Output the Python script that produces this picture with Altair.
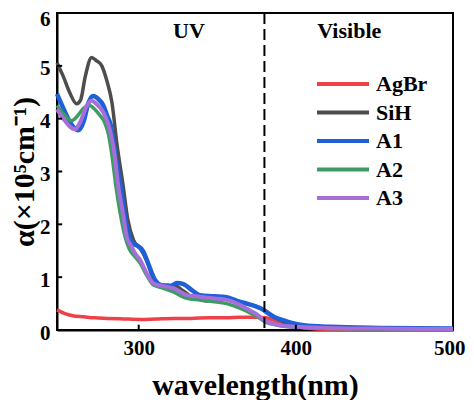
import altair as alt
import pandas as pd

series_names = ["AgBr", "SiH", "A1", "A2", "A3"]
series_colors = ["#ee4148", "#4d4d4d", "#1f5fd8", "#3c9d62", "#a66ed8"]
series_widths = [3.5, 3.5, 4.5, 3.5, 4.0]

agbr_wl = [248, 253, 258, 265, 272, 280, 290, 301, 311, 322, 333, 344, 355, 365, 375, 381, 388, 394, 401, 407, 414, 425, 450, 500]
agbr_val = [0.38, 0.31, 0.27, 0.25, 0.23, 0.22, 0.21, 0.20, 0.21, 0.22, 0.22, 0.23, 0.23, 0.24, 0.24, 0.23, 0.16, 0.10, 0.06, 0.035, 0.02, 0.01, 0.005, 0.005]

sih_wl = [248, 252, 256, 260.5, 263, 266, 270, 273, 276.5, 279.7, 283, 286, 290, 293, 296.7, 301, 305, 309, 313, 318, 323, 328, 333, 338, 343, 349, 356, 364, 371, 377, 381, 386, 392, 398, 405, 415, 430, 460, 500]
sih_val = [5.06, 4.8, 4.5, 4.28, 4.35, 4.8, 5.16, 5.1, 5.0, 4.72, 4.3, 3.55, 2.75, 2.1, 1.7, 1.54, 1.32, 1.0, 0.86, 0.85, 0.84, 0.75, 0.64, 0.58, 0.55, 0.58, 0.58, 0.52, 0.48, 0.42, 0.36, 0.25, 0.16, 0.11, 0.07, 0.05, 0.035, 0.02, 0.015]

a1_wl = [248, 252, 256, 261.6, 265, 268, 271, 274, 277.5, 280, 282, 284, 286, 288.6, 291, 294, 297, 299, 303, 306, 310.5, 314.8, 320, 324.3, 328.5, 334, 339, 347.7, 356, 364.7, 369, 377.5, 386, 394.5, 405, 422, 454, 500]
a1_val = [4.47, 4.2, 3.95, 3.78, 3.95, 4.3, 4.43, 4.38, 4.25, 4.05, 3.9, 3.55, 3.15, 2.7, 2.2, 1.76, 1.62, 1.6, 1.48, 1.26, 0.94, 0.84, 0.83, 0.89, 0.87, 0.75, 0.66, 0.64, 0.62, 0.53, 0.5, 0.41, 0.25, 0.16, 0.09, 0.06, 0.04, 0.03]

a2_wl = [248, 252, 257.3, 261, 265, 268.6, 272, 275.4, 278, 280.7, 283, 285.6, 288, 291.4, 294.6, 296.7, 301, 305, 309.4, 315.8, 322, 330.7, 339, 347, 356, 364.7, 369, 375, 380, 390, 400, 420, 460, 500]
a2_val = [4.25, 4.1, 3.96, 4.05, 4.2, 4.25, 4.18, 4.06, 3.95, 3.71, 3.3, 2.7, 2.25, 1.76, 1.5, 1.42, 1.26, 1.04, 0.85, 0.79, 0.72, 0.6, 0.57, 0.54, 0.5, 0.41, 0.35, 0.26, 0.16, 0.08, 0.05, 0.03, 0.02, 0.015]

a3_wl = [248, 252, 259.5, 263, 267, 270, 273, 277.5, 280, 282, 284, 287.1, 290, 292.4, 295, 297.7, 301, 305, 309.4, 315.8, 322, 330.7, 339, 347, 356, 364.7, 369, 375, 379.6, 390, 400, 420, 460, 500]
a3_val = [4.18, 4.0, 3.8, 3.95, 4.25, 4.34, 4.28, 4.12, 3.95, 3.75, 3.45, 2.7, 2.2, 1.76, 1.6, 1.45, 1.32, 1.08, 0.88, 0.83, 0.79, 0.66, 0.63, 0.6, 0.57, 0.47, 0.4, 0.3, 0.19, 0.09, 0.06, 0.04, 0.025, 0.02]

x_ticks = [300, 400, 500]
y_ticks = [0, 1, 2, 3, 4, 5, 6]
region_labels = ["UV", "Visible"]
region_label_x = [332, 434]
region_label_y = [5.53, 5.53]
boundary_wl = [380]

FONT = "'Liberation Serif', 'Times New Roman', serif"

rows = []
for name, wls, vals in [("AgBr", agbr_wl, agbr_val), ("SiH", sih_wl, sih_val),
                        ("A1", a1_wl, a1_val), ("A2", a2_wl, a2_val), ("A3", a3_wl, a3_val)]:
    for i, (w, v) in enumerate(zip(wls, vals)):
        rows.append({"series": name, "wl": w, "val": v, "order": i})
df = pd.DataFrame(rows)

xscale = alt.Scale(domain=[248, 500], nice=False, zero=False)
yscale = alt.Scale(domain=[0, 6], nice=False)

xaxis = alt.Axis(values=x_ticks, title="wavelength(nm)", tickSize=0, labelPadding=7,
                 titlePadding=12, grid=False, labelFlush=True, labelFlushOffset=12)
yaxis = alt.Axis(values=y_ticks, title="α(×10⁵cm⁻¹)", tickSize=0, labelPadding=7,
                 titlePadding=0, grid=False, labelFlush=False,
                 labelOffset={"condition": {"test": "datum.value == 6", "value": 6}, "value": 3})

layers = []
for name, col, w in zip(series_names, series_colors, series_widths):
    layers.append(
        alt.Chart(df[df.series == name]).mark_line(strokeWidth=w, interpolate="monotone").encode(
            x=alt.X("wl:Q", scale=xscale, axis=xaxis),
            y=alt.Y("val:Q", scale=yscale, axis=yaxis),
            color=alt.Color("series:N",
                            scale=alt.Scale(domain=series_names, range=series_colors),
                            legend=alt.Legend(title=None, orient="none", legendX=258, legendY=60,
                                              symbolType="stroke", symbolSize=2704,
                                              symbolStrokeWidth=4, labelFont=FONT,
                                              labelFontWeight="bold", labelFontSize=22,
                                              labelOffset=5, rowPadding=6.5, padding=0,
                                              clipHeight=22)),
            order="order:Q",
        )
    )

rule = alt.Chart(pd.DataFrame({"wl": boundary_wl})).mark_rule(
    color="black", strokeWidth=2, strokeDash=[11, 5]
).encode(x=alt.X("wl:Q", scale=xscale), y=alt.value(0), y2=alt.value(317))

text = alt.Chart(pd.DataFrame({"label": region_labels, "wl": region_label_x, "val": region_label_y})).mark_text(
    font=FONT, fontWeight="bold", fontSize=22, color="black", baseline="alphabetic", align="center"
).encode(x=alt.X("wl:Q", scale=xscale), y=alt.Y("val:Q", scale=yscale), text="label:N")

xt = alt.Chart(pd.DataFrame({"wl": x_ticks[:-1]})).mark_rule(color="black", strokeWidth=2).encode(
    x=alt.X("wl:Q", scale=xscale), y=alt.datum(0, scale=yscale), y2=alt.datum(0.1)
)
yt = alt.Chart(pd.DataFrame({"val": y_ticks[1:-1]})).mark_rule(color="black", strokeWidth=2).encode(
    y=alt.Y("val:Q", scale=yscale), x=alt.datum(248, scale=xscale), x2=alt.datum(251.3)
)

chart = alt.layer(*layers, rule, text, xt, yt).properties(
    width=396, height=317,
    autosize=alt.AutoSizeParams(type="none"),
    padding={"left": 49, "top": 5, "right": 13, "bottom": 70},
).configure_view(stroke="black", strokeWidth=2).configure_axis(
    domainColor="black", domainWidth=2, labelFont=FONT, labelFontWeight="bold", labelFontSize=21,
    labelColor="black", titleFont=FONT, titleFontWeight="bold", titleFontSize=30, titleColor="black",
)

chart.save("out.html", embed_options={"renderer": "svg", "actions": False})
